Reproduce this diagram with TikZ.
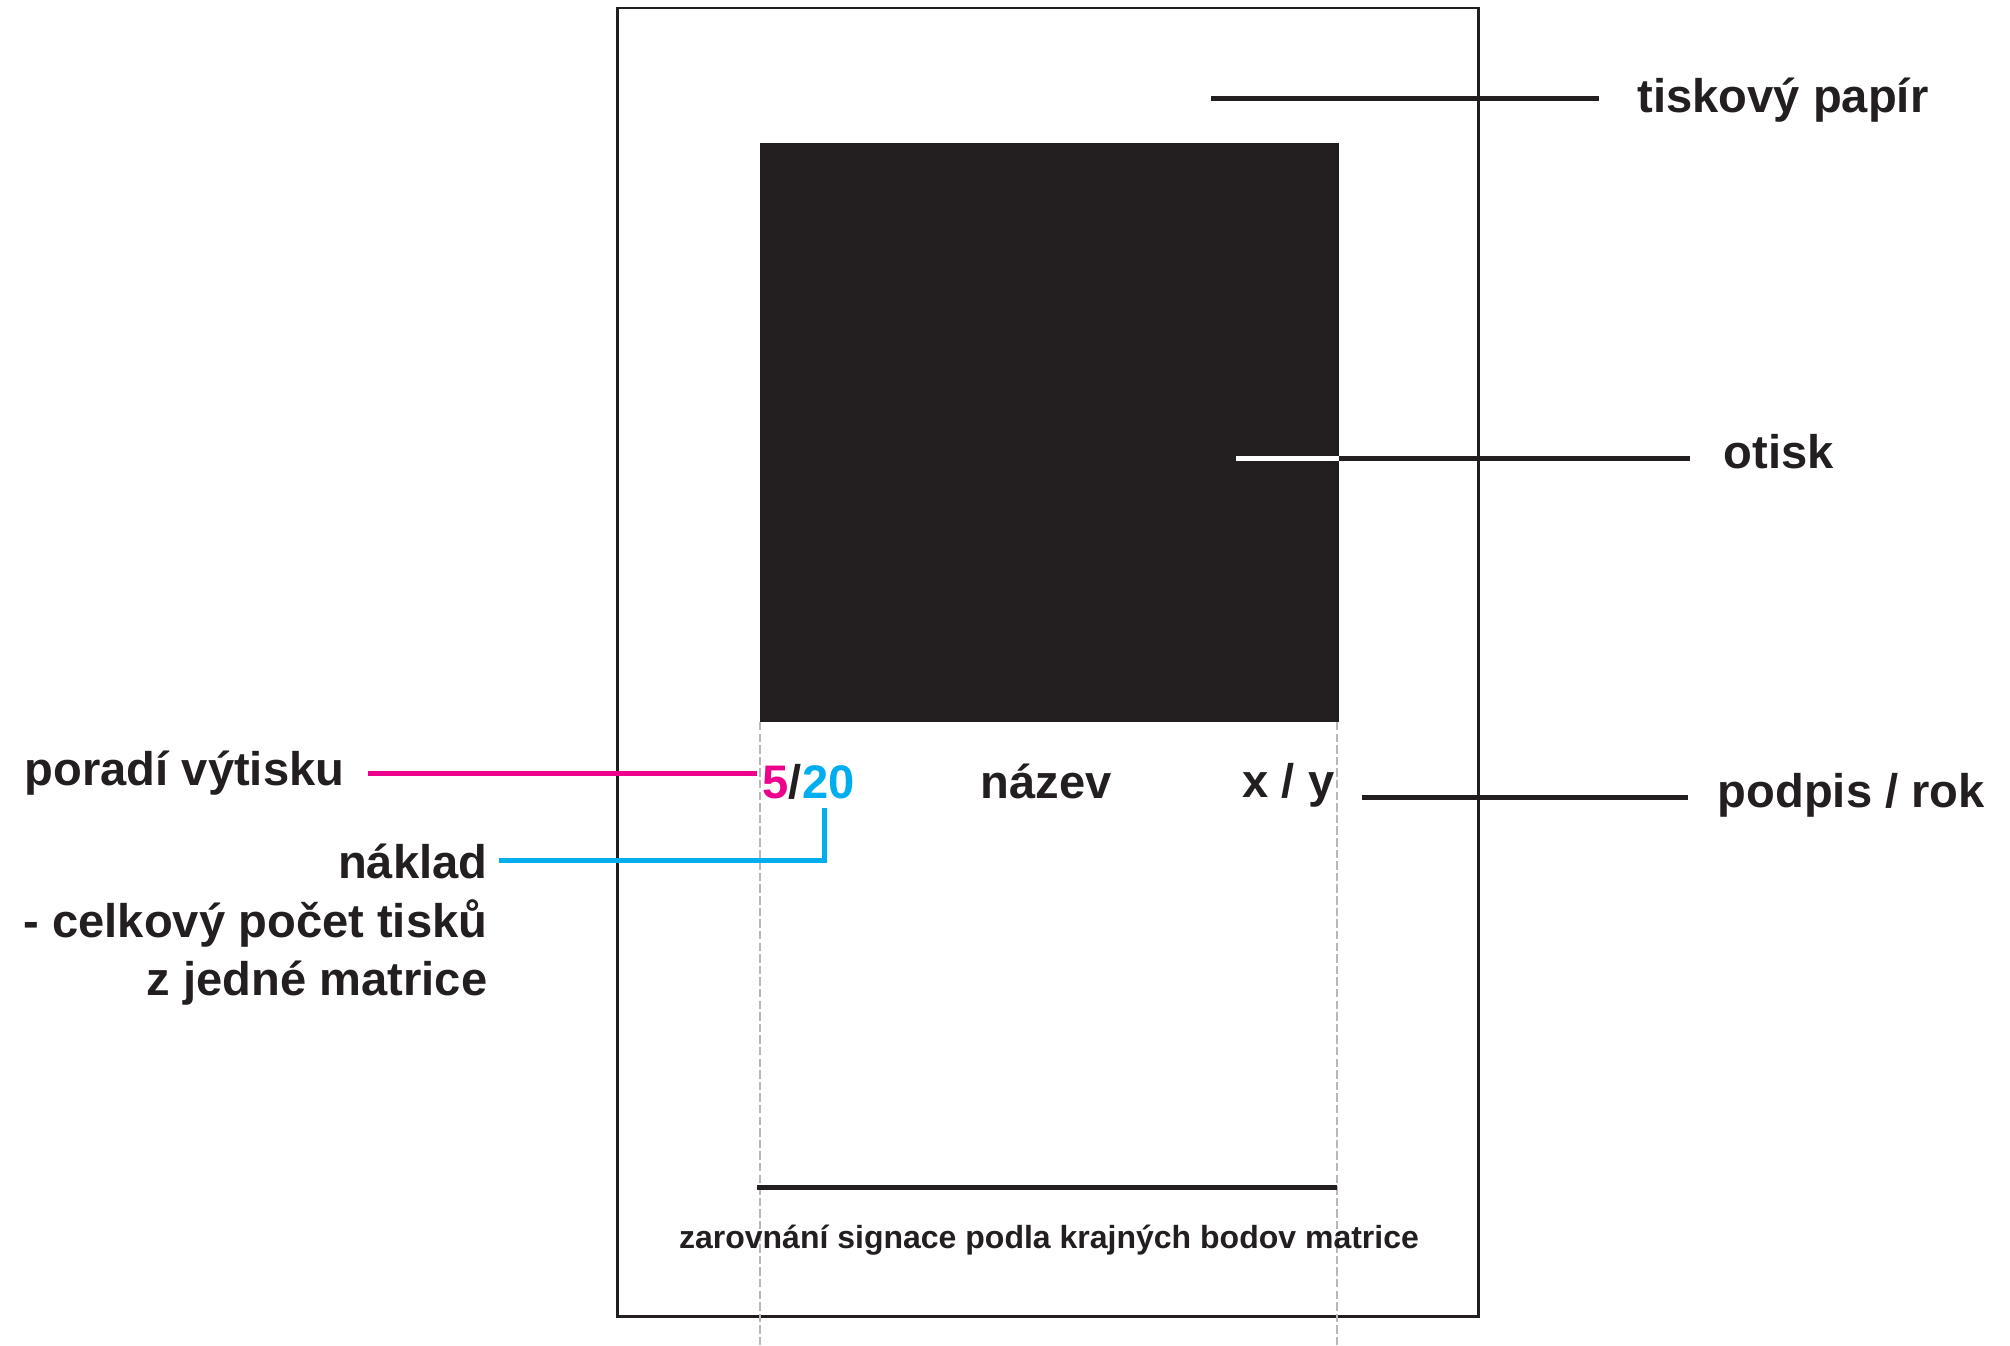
\documentclass[tikz,border=0pt]{standalone}
\usepackage{fontspec}
\setmainfont{Liberation Sans}
\definecolor{ink}{HTML}{231F20}
\definecolor{pinkline}{HTML}{EC008C}
\definecolor{cyanline}{HTML}{00AEEF}
\tikzset{
  leader/.style={line width=1.42pt, draw=ink},
  lbl/.style={inner sep=0pt, text=ink, font=\fontsize{13.4pt}{16.5pt}\selectfont\bfseries},
  note/.style={inner sep=0pt, text=ink, font=\fontsize{9.1pt}{11pt}\selectfont\bfseries},
  guide/.style={line width=0.45pt, draw=black!28, dash pattern=on 2.4pt off 0.9pt}
}
\begin{document}
\begin{tikzpicture}[x=0.01cm, y=-0.01cm]
  \useasboundingbox (0,0) rectangle (2010,1345);

  % Coordinates of the paper and the print
  \coordinate (P1) at (617,8);
  \coordinate (P2) at (1478,1316);
  \coordinate (M1) at (760,143);
  \coordinate (M2) at (1339,722);

  % The paper
  \draw[line width=0.85pt, ink] (P1) rectangle (P2);

  % The print
  \fill[ink] (M1) rectangle (M2);

  % Guides under the print edges
  \draw[guide] (760,722) -- (760,1345);
  \draw[guide] (1337,722) -- (1337,1345);

  % Labels
  \node[lbl, anchor=base west] (papir) at (1637,112) {tiskový papír};
  \node[lbl, anchor=base west] (otisk) at (1723,468) {otisk};
  \node[lbl, anchor=base west] (podpis) at (1717,807) {podpis / rok};
  \node[lbl, anchor=base east] (poradi) at (345,785) {poradí výtisku};
  \node[lbl, anchor=base east, align=right] (naklad) at (488,995)
    {náklad\\- celkový počet tisků\\z jedné matrice};

  % The signature row
  \node[lbl, anchor=base west] (cislo) at (762,798)
    {\textcolor{pinkline}{5}/\textcolor{cyanline}{20}};
  \node[lbl, anchor=base west] (nazev) at (980,798) {název};
  \node[lbl, anchor=base east] (rok) at (1335,797) {x / y};
  \node[note, anchor=base] (zarovnani) at (1049,1248)
    {zarovnání signace podla krajných bodov matrice};

  % Leader points
  \coordinate (papirpt) at (1211,98);
  \coordinate (otiskpt) at (1236,458);
  \coordinate (podpispt) at (1362,797);
  \coordinate (poradipt) at (757,773);
  \coordinate (nakladpt) at (824,808);
  \coordinate (nakladend) at (499,860);
  \coordinate (linkaA) at (757,1187);
  \coordinate (linkaB) at (1337,1187);

  % The leaders
  \draw[leader, shorten >=10.8pt] (papirpt) -- (papirpt -| papir.west);
  \draw[leader, draw=white] (otiskpt) -- (otiskpt -| M2);
  \draw[leader, shorten >=9.4pt] (otiskpt -| M2) -- (otiskpt -| otisk.west);
  \draw[leader, shorten >=8.2pt] (podpispt) -- (podpispt -| podpis.west);
  \draw[leader, draw=pinkline, shorten <=6.5pt] (poradipt -| poradi.east) -- (poradipt);
  \draw[leader, draw=cyanline] (nakladpt) |- (nakladend);

  % The alignment line
  \draw[leader] (linkaA) -- (linkaB);
\end{tikzpicture}
\end{document}
